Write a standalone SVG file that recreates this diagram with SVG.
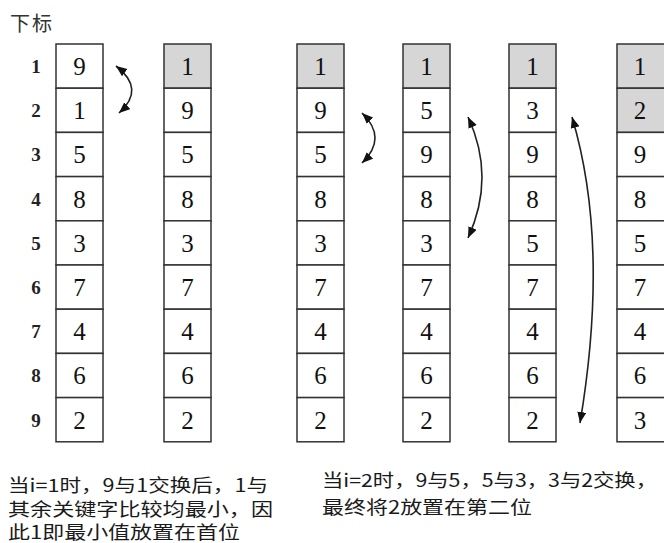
<svg xmlns="http://www.w3.org/2000/svg" width="664" height="543" viewBox="0 0 664 543">
<style>
.cell{fill:#fff;stroke:#333;stroke-width:1.5}
.sh{fill:#d6d6d6}
.num{font-family:"Liberation Serif",serif;font-size:25px;fill:#111;text-anchor:middle}
.idx{font-family:"Liberation Serif",serif;font-size:19px;font-weight:bold;fill:#222;text-anchor:middle}
.cap{font-family:"Noto Sans CJK SC",sans-serif;font-size:18px;fill:#1a1a1a}
.arr{fill:none;stroke:#222;stroke-width:1.6;marker-start:url(#ah);marker-end:url(#ah)}
</style>
<defs>
<marker id="ah" markerUnits="userSpaceOnUse" markerWidth="12" markerHeight="10" refX="11" refY="4.5" orient="auto-start-reverse">
<path d="M0,0 L11,4.5 L0,9 z" fill="#111"/>
</marker>
</defs>
<rect width="664" height="543" fill="#fff"/>
<text x="10" y="31" font-family="Noto Sans CJK SC,sans-serif" font-size="20" fill="#333" textLength="42">下标</text>
<g id="index">
<text class="idx" x="36" y="73">1</text>
<text class="idx" x="36" y="117">2</text>
<text class="idx" x="36" y="161">3</text>
<text class="idx" x="36" y="206">4</text>
<text class="idx" x="36" y="250">5</text>
<text class="idx" x="36" y="294">6</text>
<text class="idx" x="36" y="338">7</text>
<text class="idx" x="36" y="382">8</text>
<text class="idx" x="36" y="427">9</text>
</g>
<g id="col1">
<rect class="cell" x="56" y="44" width="47" height="44.2"/><rect class="cell" x="56" y="88.2" width="47" height="44.2"/><rect class="cell" x="56" y="132.4" width="47" height="44.2"/><rect class="cell" x="56" y="176.6" width="47" height="44.2"/><rect class="cell" x="56" y="220.8" width="47" height="44.2"/><rect class="cell" x="56" y="265" width="47" height="44.2"/><rect class="cell" x="56" y="309.2" width="47" height="44.2"/><rect class="cell" x="56" y="353.4" width="47" height="44.2"/><rect class="cell" x="56" y="397.6" width="47" height="44.2"/>
<text class="num" x="79.5" y="75">9</text><text class="num" x="79.5" y="119">1</text><text class="num" x="79.5" y="163">5</text><text class="num" x="79.5" y="208">8</text><text class="num" x="79.5" y="252">3</text><text class="num" x="79.5" y="296">7</text><text class="num" x="79.5" y="340">4</text><text class="num" x="79.5" y="384">6</text><text class="num" x="79.5" y="429">2</text>
</g>
<g id="col2">
<rect class="cell sh" x="164" y="44" width="47" height="44.2"/><rect class="cell" x="164" y="88.2" width="47" height="44.2"/><rect class="cell" x="164" y="132.4" width="47" height="44.2"/><rect class="cell" x="164" y="176.6" width="47" height="44.2"/><rect class="cell" x="164" y="220.8" width="47" height="44.2"/><rect class="cell" x="164" y="265" width="47" height="44.2"/><rect class="cell" x="164" y="309.2" width="47" height="44.2"/><rect class="cell" x="164" y="353.4" width="47" height="44.2"/><rect class="cell" x="164" y="397.6" width="47" height="44.2"/>
<text class="num" x="187.5" y="75">1</text><text class="num" x="187.5" y="119">9</text><text class="num" x="187.5" y="163">5</text><text class="num" x="187.5" y="208">8</text><text class="num" x="187.5" y="252">3</text><text class="num" x="187.5" y="296">7</text><text class="num" x="187.5" y="340">4</text><text class="num" x="187.5" y="384">6</text><text class="num" x="187.5" y="429">2</text>
</g>
<g id="col3">
<rect class="cell sh" x="297" y="44" width="47" height="44.2"/><rect class="cell" x="297" y="88.2" width="47" height="44.2"/><rect class="cell" x="297" y="132.4" width="47" height="44.2"/><rect class="cell" x="297" y="176.6" width="47" height="44.2"/><rect class="cell" x="297" y="220.8" width="47" height="44.2"/><rect class="cell" x="297" y="265" width="47" height="44.2"/><rect class="cell" x="297" y="309.2" width="47" height="44.2"/><rect class="cell" x="297" y="353.4" width="47" height="44.2"/><rect class="cell" x="297" y="397.6" width="47" height="44.2"/>
<text class="num" x="320.5" y="75">1</text><text class="num" x="320.5" y="119">9</text><text class="num" x="320.5" y="163">5</text><text class="num" x="320.5" y="208">8</text><text class="num" x="320.5" y="252">3</text><text class="num" x="320.5" y="296">7</text><text class="num" x="320.5" y="340">4</text><text class="num" x="320.5" y="384">6</text><text class="num" x="320.5" y="429">2</text>
</g>
<g id="col4">
<rect class="cell sh" x="403" y="44" width="47" height="44.2"/><rect class="cell" x="403" y="88.2" width="47" height="44.2"/><rect class="cell" x="403" y="132.4" width="47" height="44.2"/><rect class="cell" x="403" y="176.6" width="47" height="44.2"/><rect class="cell" x="403" y="220.8" width="47" height="44.2"/><rect class="cell" x="403" y="265" width="47" height="44.2"/><rect class="cell" x="403" y="309.2" width="47" height="44.2"/><rect class="cell" x="403" y="353.4" width="47" height="44.2"/><rect class="cell" x="403" y="397.6" width="47" height="44.2"/>
<text class="num" x="426.5" y="75">1</text><text class="num" x="426.5" y="119">5</text><text class="num" x="426.5" y="163">9</text><text class="num" x="426.5" y="208">8</text><text class="num" x="426.5" y="252">3</text><text class="num" x="426.5" y="296">7</text><text class="num" x="426.5" y="340">4</text><text class="num" x="426.5" y="384">6</text><text class="num" x="426.5" y="429">2</text>
</g>
<g id="col5">
<rect class="cell sh" x="509" y="44" width="47" height="44.2"/><rect class="cell" x="509" y="88.2" width="47" height="44.2"/><rect class="cell" x="509" y="132.4" width="47" height="44.2"/><rect class="cell" x="509" y="176.6" width="47" height="44.2"/><rect class="cell" x="509" y="220.8" width="47" height="44.2"/><rect class="cell" x="509" y="265" width="47" height="44.2"/><rect class="cell" x="509" y="309.2" width="47" height="44.2"/><rect class="cell" x="509" y="353.4" width="47" height="44.2"/><rect class="cell" x="509" y="397.6" width="47" height="44.2"/>
<text class="num" x="532.5" y="75">1</text><text class="num" x="532.5" y="119">3</text><text class="num" x="532.5" y="163">9</text><text class="num" x="532.5" y="208">8</text><text class="num" x="532.5" y="252">5</text><text class="num" x="532.5" y="296">7</text><text class="num" x="532.5" y="340">4</text><text class="num" x="532.5" y="384">6</text><text class="num" x="532.5" y="429">2</text>
</g>
<g id="col6">
<rect class="cell sh" x="617" y="44" width="60" height="44.2"/><rect class="cell sh" x="617" y="88.2" width="60" height="44.2"/><rect class="cell" x="617" y="132.4" width="60" height="44.2"/><rect class="cell" x="617" y="176.6" width="60" height="44.2"/><rect class="cell" x="617" y="220.8" width="60" height="44.2"/><rect class="cell" x="617" y="265" width="60" height="44.2"/><rect class="cell" x="617" y="309.2" width="60" height="44.2"/><rect class="cell" x="617" y="353.4" width="60" height="44.2"/><rect class="cell" x="617" y="397.6" width="60" height="44.2"/>
<text class="num" x="640" y="75">1</text><text class="num" x="640" y="119">2</text><text class="num" x="640" y="163">9</text><text class="num" x="640" y="208">8</text><text class="num" x="640" y="252">5</text><text class="num" x="640" y="296">7</text><text class="num" x="640" y="340">4</text><text class="num" x="640" y="384">6</text><text class="num" x="640" y="429">3</text>
</g>
<g id="connectors">
<path class="arr" d="M116,66 Q146,89 119,113"/>
<path class="arr" d="M362,113 Q388,138 362,163"/>
<path class="arr" d="M468,117 Q496,177 468,238"/>
<path class="arr" d="M572,117 Q610,244 580,423"/>
</g>
<g id="captions">
<text class="cap" x="8" y="492" textLength="260" lengthAdjust="spacingAndGlyphs">当i=1时，9与1交换后，1与</text>
<text class="cap" x="8" y="516" textLength="265" lengthAdjust="spacingAndGlyphs">其余关键字比较均最小，因</text>
<text class="cap" x="8" y="539" textLength="232" lengthAdjust="spacingAndGlyphs">此1即最小值放置在首位</text>
<text class="cap" x="322" y="487" textLength="335" lengthAdjust="spacingAndGlyphs">当i=2时，9与5，5与3，3与2交换，</text>
<text class="cap" x="322" y="514" textLength="210" lengthAdjust="spacingAndGlyphs">最终将2放置在第二位</text>
</g>
</svg>
